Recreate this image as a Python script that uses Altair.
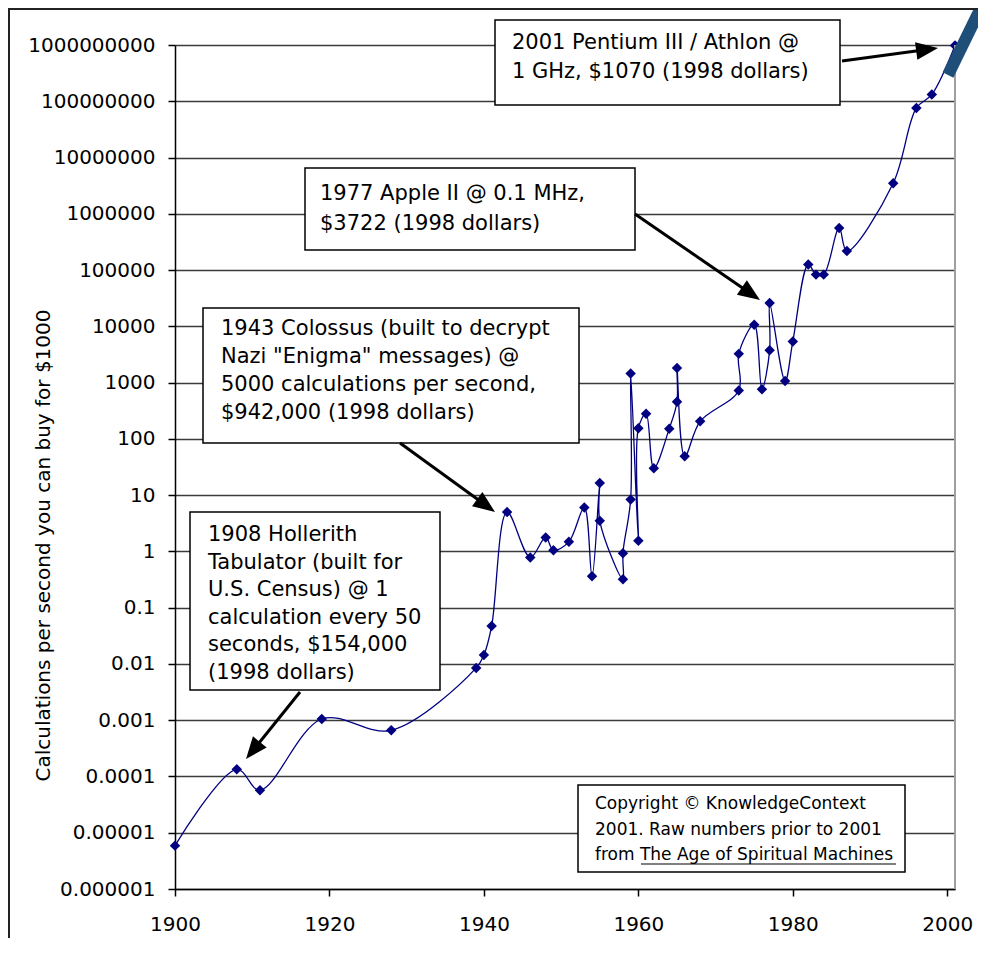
import json
import math
import altair as alt
import pandas as pd

# ---------------- data ----------------
years = [1900, 1908, 1911, 1919, 1928, 1939, 1940, 1941, 1943, 1946,
         1948, 1949, 1951, 1953, 1954, 1955, 1955, 1958, 1958, 1959,
         1959, 1960, 1960, 1961, 1962, 1964, 1965, 1965, 1966, 1968,
         1973, 1973, 1975, 1976, 1977, 1977, 1979, 1980, 1982, 1983,
         1984, 1986, 1987, 1993, 1996, 1998, 2001]
calcs = [5.9e-6, 1.34e-4, 5.7e-5, 1.05e-3, 6.6e-4, 0.0085, 0.0144, 0.047, 5.0, 0.78,
         1.77, 1.05, 1.48, 6.0, 0.36, 16.5, 3.5, 0.32, 0.93, 8.4,
         1450, 1.55, 155, 280, 30, 152, 455, 1820, 49, 205,
         725, 3240, 10700, 760, 3740, 25900, 1070, 5400, 126000, 83000,
         83000, 560000, 218000, 3.5e6, 7.6e7, 1.32e8, 9.8e8]

x_ticks = [1900, 1920, 1940, 1960, 1980, 2000]
y_ticks = [1e-6, 1e-5, 1e-4, 1e-3, 1e-2, 1e-1, 1, 10, 100, 1e3, 1e4, 1e5,
           1e6, 1e7, 1e8, 1e9]
y_tick_labels = ["0.000001", "0.00001", "0.0001", "0.001", "0.01", "0.1", "1",
                 "10", "100", "1000", "10000", "100000", "1000000",
                 "10000000", "100000000", "1000000000"]
y_title = "Calculations per second you can buy for $1000"

pentium_lines = ["2001 Pentium III / Athlon @", "1 GHz, $1070 (1998 dollars)"]
apple_lines = ["1977 Apple II @ 0.1 MHz,", "$3722 (1998 dollars)"]
colossus_lines = ["1943 Colossus (built to decrypt", 'Nazi "Enigma" messages) @',
                  "5000 calculations per second,", "$942,000 (1998 dollars)"]
hollerith_lines = ["1908 Hollerith", "Tabulator (built for", "U.S. Census) @ 1",
                   "calculation every 50", "seconds, $154,000", "(1998 dollars)"]
copyright_lines = ["Copyright \u00a9 KnowledgeContext",
                   "2001.  Raw numbers prior to 2001",
                   "from The Age of Spiritual Machines"]

# ---------------- layout (page pixels) ----------------
X0, Y0, W, H = 175, 45, 780, 844
TOTAL_W, TOTAL_H = 970, 930
XMIN, XMAX = 1900, 2001
LMIN, LMAX = -6, 9
FONT = "DejaVu Sans"


def yr(px):
    return XMIN + (px - X0) * (XMAX - XMIN) / W


def val(py):
    return 10 ** (LMAX - (py - Y0) * (LMAX - LMIN) / H)


# callouts: box (x1, y1, x2, y2), text x, first line y, line step, lines, arrow
callouts = [
    dict(box=(495, 20, 840, 105), tx=512, ty=43, step=29, lines=pentium_lines,
         arrow=((842, 61), (938, 48))),
    dict(box=(305, 168, 635, 250), tx=320, ty=194, step=30, lines=apple_lines,
         arrow=((635, 214), (760, 300))),
    dict(box=(203, 308, 579, 443), tx=221, ty=329, step=28, lines=colossus_lines,
         arrow=((400, 443), (495, 512))),
    dict(box=(190, 512, 440, 690), tx=208, ty=535, step=27.6, lines=hollerith_lines,
         arrow=((300, 692), (246, 759))),
]
copyright_box = (578, 785, 905, 872)

box_rows, text_rows, rule_rows, head_rows = [], [], [], []
HEAD = 22.0
for c in callouts:
    x1, y1, x2, y2 = c["box"]
    box_rows.append(dict(a=yr(x1), b=yr(x2), c=val(y1), d=val(y2)))
    for i, t in enumerate(c["lines"]):
        text_rows.append(dict(a=yr(c["tx"]), c=val(c["ty"] + i * c["step"]), t=t))
    (sx, sy), (ex, ey) = c["arrow"]
    L = math.hypot(ex - sx, ey - sy)
    ux, uy = (ex - sx) / L, (ey - sy) / L
    cx, cy = ex - ux * HEAD / 2, ey - uy * HEAD / 2
    rule_rows.append(dict(a=yr(sx), b=yr(cx), c=val(sy), d=val(cy)))
    ang = math.degrees(math.atan2(ux, -uy)) % 360
    head_rows.append(dict(a=yr(cx), c=val(cy), ang=ang))

cx1, cy1, cx2, cy2 = copyright_box
copy_box_df = pd.DataFrame([dict(a=yr(cx1), b=yr(cx2), c=val(cy1), d=val(cy2))])
copy_text_df = pd.DataFrame([dict(a=yr(595), c=val(804 + i * 25.5), t=t)
                             for i, t in enumerate(copyright_lines)])
underline_df = pd.DataFrame([dict(a=yr(641), b=yr(896), c=val(864), d=val(864))])

# ---------------- main chart ----------------
df = pd.DataFrame({"year": years, "calc": calcs, "idx": list(range(len(years)))})

label_expr = json.dumps(y_tick_labels) + "[round(log(datum.value)/LN10)+6]"

x_enc = alt.X("year:Q",
              scale=alt.Scale(domain=[XMIN, XMAX], nice=False, zero=False),
              axis=alt.Axis(values=x_ticks, format="d", title=None, grid=False,
                            tickSize=7, tickWidth=1.5, tickColor="black",
                            domainColor="black", domainWidth=1.5,
                            labelFont=FONT, labelFontSize=20, labelColor="black",
                            labelPadding=18, labelFlush=False, labelOverlap=False))
y_enc = alt.Y("calc:Q",
              scale=alt.Scale(type="log", domain=[1e-6, 1e9], nice=False),
              axis=alt.Axis(values=y_ticks, labelExpr=label_expr, grid=True,
                            gridColor="#3a3a3a", gridWidth=1.5,
                            tickSize=7, tickWidth=1.5, tickColor="black",
                            domainColor="black", domainWidth=1.5,
                            labelFont=FONT, labelFontSize=20, labelColor="black",
                            labelPadding=13, labelFlush=False, labelOverlap=False,
                            title=y_title, titleFont=FONT, titleFontSize=20,
                            titleFontWeight="normal", titleColor="black",
                            titleAngle=270, titleAlign="center",
                            titleBaseline="middle", titleX=43 - X0, titleY=545 - Y0))

base = alt.Chart(df)
line = base.mark_line(color="#000080", strokeWidth=1.3,
                      interpolate="catmull-rom").encode(x=x_enc, y=y_enc,
                                                         order="idx:Q")
points = base.mark_point(shape="diamond", filled=True, color="#000080",
                         size=110, opacity=1).encode(x="year:Q", y="calc:Q")


def rects(data):
    return alt.Chart(data).mark_rect(fill="white", stroke="black",
                                     strokeWidth=1.5).encode(
        x="a:Q", x2="b:Q", y="c:Q", y2="d:Q")


boxes = rects(pd.DataFrame(box_rows))
copy_box = rects(copy_box_df)

texts = alt.Chart(pd.DataFrame(text_rows)).mark_text(
    align="left", baseline="middle", font=FONT, fontSize=21, color="black"
).encode(x="a:Q", y="c:Q", text="t:N")
copy_texts = alt.Chart(copy_text_df).mark_text(
    align="left", baseline="middle", font=FONT, fontSize=17, color="black"
).encode(x="a:Q", y="c:Q", text="t:N")
underline = alt.Chart(underline_df).mark_rule(color="black", strokeWidth=1.2).encode(
    x="a:Q", x2="b:Q", y="c:Q", y2="d:Q")

arrow_lines = alt.Chart(pd.DataFrame(rule_rows)).mark_rule(
    color="black", strokeWidth=3).encode(x="a:Q", x2="b:Q", y="c:Q", y2="d:Q")
arrow_heads = alt.Chart(pd.DataFrame(head_rows)).mark_point(
    shape="M0,-1L0.8,1L-0.8,1Z", filled=True, color="black", opacity=1,
    size=HEAD * HEAD, strokeWidth=0).encode(
    x="a:Q", y="c:Q", angle=alt.Angle("ang:Q", scale=None))

# thick blue stroke at top right
blue_df = pd.DataFrame([dict(a=yr(948), b=yr(992), c=val(75), d=val(-15))])
blue = alt.Chart(blue_df).mark_rule(color="#1f4e79", strokeWidth=12,
                                    strokeCap="butt").encode(
    x="a:Q", x2="b:Q", y="c:Q", y2="d:Q")

# plot-area right border and outer chart border
frame_df = pd.DataFrame([dict(a=XMAX, b=XMAX, c=1e-6, d=1e9)])
plot_border = alt.Chart(frame_df).mark_rule(color="#a0a0a0", strokeWidth=2).encode(
    x="a:Q", x2="b:Q", y="c:Q", y2="d:Q")
outer_df = pd.DataFrame([
    dict(a=yr(9), b=yr(9), c=val(8), d=val(980)),
    dict(a=yr(8), b=yr(1000), c=val(9), d=val(9)),
])
outer_border = alt.Chart(outer_df).mark_rule(color="#222222", strokeWidth=2).encode(
    x="a:Q", x2="b:Q", y="c:Q", y2="d:Q")

chart = alt.layer(
    line, points, plot_border, boxes, copy_box, texts, copy_texts, underline,
    arrow_lines, arrow_heads, blue, outer_border
).properties(
    width=W, height=H,
    autosize=alt.AutoSizeParams(type="none"),
    padding={"left": X0 - 8, "top": Y0 - 8,
             "right": TOTAL_W - (X0 - 8) - W,
             "bottom": TOTAL_H - (Y0 - 8) - H},
    background="white",
).configure_view(stroke=None)

chart.save("out.html", embed_options={"renderer": "svg", "actions": False})
